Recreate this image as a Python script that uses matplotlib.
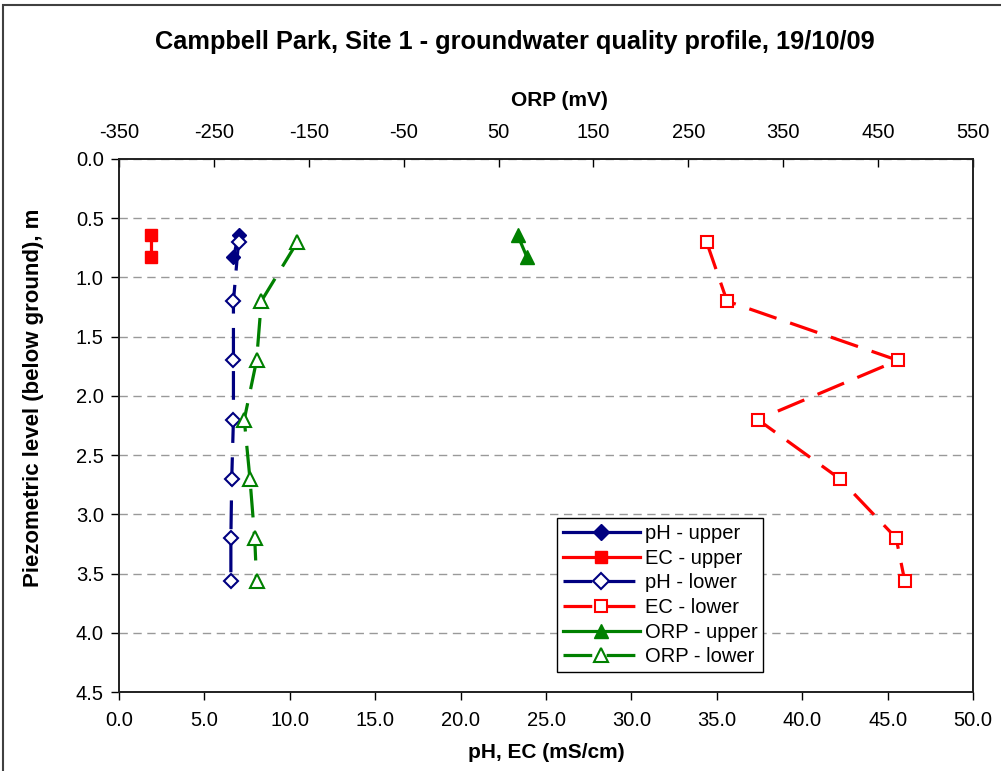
import matplotlib
matplotlib.use("Agg")
import matplotlib.pyplot as plt
from matplotlib.lines import Line2D
from matplotlib.patches import Rectangle

plt.rcParams['font.family'] = ['Liberation Sans', 'DejaVu Sans']

# ---- data ----
depth_upper = [0.64, 0.83]
depth_lower = [0.70, 1.20, 1.70, 2.20, 2.70, 3.20, 3.56]

ph_upper = [7.0, 6.7]
ec_upper = [1.9, 1.9]
orp_upper = [70, 80]

ph_lower = [7.0, 6.7, 6.7, 6.7, 6.6, 6.55, 6.55]
ec_lower = [34.4, 35.6, 45.6, 37.4, 42.2, 45.5, 46.0]
orp_lower = [-162, -200, -205, -218, -212, -207, -205]

bottom_ticks = [0, 5, 10, 15, 20, 25, 30, 35, 40, 45, 50]
top_ticks = [-350, -250, -150, -50, 50, 150, 250, 350, 450, 550]
y_ticks = [0.0, 0.5, 1.0, 1.5, 2.0, 2.5, 3.0, 3.5, 4.0, 4.5]

title = "Campbell Park, Site 1 - groundwater quality profile, 19/10/09"

W, H = 1001, 771
fig = plt.figure(figsize=(W / 100, H / 100), dpi=100)
fig.patch.set_facecolor('white')

L, R, T, B = 119, 973, 159, 692
ax = fig.add_axes([L / W, 1 - B / H, (R - L) / W, (B - T) / H])
ax2 = ax.twiny()

navy = '#000080'
red = '#FF0000'
green = '#008000'
lw = 2.3
dash = (9, 4.5)

# upper series (solid)
ax.plot(ph_upper, depth_upper, color=navy, lw=lw, marker='D', ms=7, mfc=navy, mec=navy, zorder=5)
ax.plot(ec_upper, depth_upper, color=red, lw=lw, marker='s', ms=8, mfc=red, mec=red, zorder=5)
ax2.plot(orp_upper, depth_upper, color=green, lw=lw, marker='^', ms=10, mfc=green, mec=green, zorder=5)

# lower series (dashed)
ax.plot(ph_lower, depth_lower, color=navy, lw=lw, dashes=dash, marker='D', ms=7,
        mfc='white', mec=navy, mew=1.5, zorder=5)
ax.plot(ec_lower, depth_lower, color=red, lw=lw, dashes=dash, marker='s', ms=8,
        mfc='white', mec=red, mew=1.5, zorder=5)
ax2.plot(orp_lower, depth_lower, color=green, lw=lw, dashes=dash, marker='^', ms=10,
         mfc='white', mec=green, mew=1.5, zorder=5)

# axes setup
ax.set_xlim(0, 50)
ax2.set_xlim(-350, 550)
ax.set_ylim(4.5, 0)
ax.set_xticks(bottom_ticks)
ax.set_xticklabels([f"{v:.1f}" for v in bottom_ticks])
ax2.set_xticks(top_ticks)
ax2.set_xticklabels([str(v) for v in top_ticks])
ax.set_yticks(y_ticks)
ax.set_yticklabels([f"{v:.1f}" for v in y_ticks])

fs = 14.5
ax.tick_params(axis='x', direction='out', length=6, width=1, labelsize=fs, pad=8)
ax.tick_params(axis='y', direction='out', length=6, width=1, labelsize=fs, pad=5)
ax2.tick_params(axis='x', direction='in', length=6, width=1, labelsize=fs, pad=12)

for a in (ax, ax2):
    for s in a.spines.values():
        s.set_color('#202020')
        s.set_linewidth(1.2)

ax.yaxis.grid(True, color='#999999', linestyle=(0, (6, 4)), linewidth=1.0)
ax.set_axisbelow(True)

ax.set_xlabel("pH, EC (mS/cm)", fontsize=15, fontweight='bold')
ax.xaxis.set_label_coords(0.5, -0.0957)
ax2.set_xlabel("ORP (mV)", fontsize=15, fontweight='bold')
ax2.xaxis.set_label_coords(0.516, 1.0994)
ax.set_ylabel("Piezometric level (below ground), m", fontsize=16, fontweight='bold')
ax.yaxis.set_label_coords(-0.088, 0.552)

fig.text(515 / W, 1 - 42 / H, title, ha='center', va='center', fontsize=18.3, fontweight='bold')

# legend
handles = [
    Line2D([], [], color=navy, lw=lw, marker='D', ms=8, mfc=navy, mec=navy),
    Line2D([], [], color=red, lw=lw, marker='s', ms=8, mfc=red, mec=red),
    Line2D([], [], color=navy, lw=lw, dashes=dash, marker='D', ms=8, mfc='white', mec=navy, mew=1.5),
    Line2D([], [], color=red, lw=lw, dashes=dash, marker='s', ms=8, mfc='white', mec=red, mew=1.5),
    Line2D([], [], color=green, lw=lw, marker='^', ms=10, mfc=green, mec=green),
    Line2D([], [], color=green, lw=lw, dashes=dash, marker='^', ms=10, mfc='white', mec=green, mew=1.5),
]
labels = ["pH - upper", "EC - upper", "pH - lower", "EC - lower", "ORP - upper", "ORP - lower"]
leg = ax2.legend(handles, labels, loc='upper left',
                 bbox_to_anchor=(557 / W, 1 - 518 / H), bbox_transform=fig.transFigure,
                 fontsize=fs, frameon=True, fancybox=False, framealpha=1,
                 edgecolor='black', handlelength=3.8, handletextpad=0.25,
                 labelspacing=0.28, borderpad=0.3, borderaxespad=0)
leg.get_frame().set_linewidth(1.0)
leg.set_zorder(20)

# outer chart border
fig.patches.append(Rectangle((3 / W, -0.1), 1.2, 1.1 - 5 / H, transform=fig.transFigure,
                             fill=False, edgecolor='#404040', linewidth=1.5))

fig.savefig("out.png", dpi=100)
